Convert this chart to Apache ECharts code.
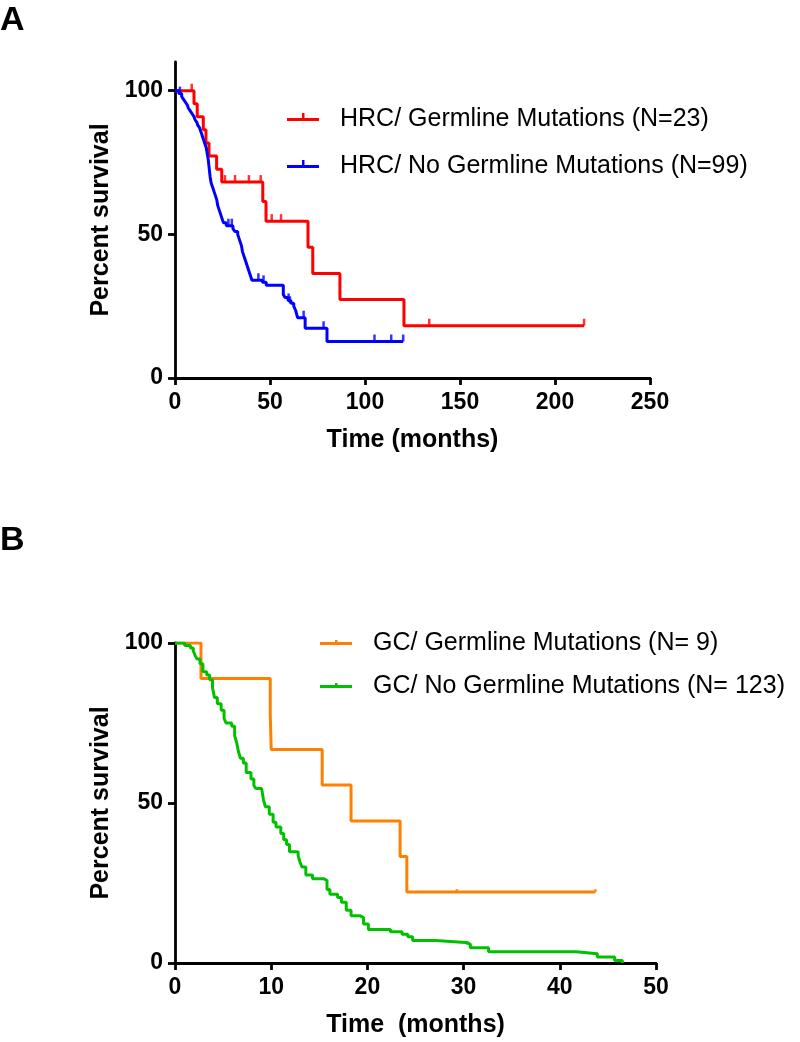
<!DOCTYPE html>
<html>
<head>
<meta charset="utf-8">
<script src="https://cdn.jsdelivr.net/npm/echarts@6/dist/echarts.min.js"></script>
<style>
html,body{margin:0;padding:0;background:#fff;}
#chart{width:800px;height:1042px;}
</style>
</head>
<body>
<div id="chart"></div>
<script>
// ---------- DATA ----------
// Panel A: HRC, time (months) vs percent survival (Kaplan-Meier steps: [time, survival after event])
const hrcGermline = [[0,100],[10.0,95.5],[11.7,90.9],[14.9,86.4],[16.3,81.8],[17.9,77.3],[21.9,72.7],[24.6,68.2],[46.2,61.4],[47.9,54.6],[70.0,45.5],[72.5,36.4],[86.8,27.3],[120.5,18.2],[215.3,18.2]];
const hrcGermlineCensor = [[8.8,100],[26.3,68.2],[31.6,68.2],[38.9,68.2],[45.1,68.2],[50.9,54.6],[55.8,54.6],[133.8,18.2],[215.3,18.2]];
const hrcNoGermline = [[0,100],[2,99],[3.5,98],[4.5,97],[5.5,96],[6.5,95],[7,94],[8,93],[9,92],[10,91],[10.5,90],[11.5,89],[12,88],[13,87],[13.5,86],[14,85],[14.5,84],[15,83],[15.5,82],[16,81],[16.5,80],[17,78],[17.5,76],[18,73],[18.5,70],[19,68],[20,66],[21,64],[22,62],[22.5,60],[23.5,58],[24.5,56],[25.5,54],[27,53],[30.5,52],[31.5,51],[33,50],[34,48],[35,46],[35.5,44],[36.5,42],[37.5,40],[38.5,38],[39.5,36],[40.5,34],[46,33.3],[48,32.3],[57,29],[58,28],[59.5,27],[61,26],[62.5,25],[63.5,23.5],[64.5,21],[68.5,17.3],[80,12.7],[120.1,12.7]];
const hrcNoGermlineCensor = [[2.6,99],[28.1,53],[29.9,53],[43.9,34],[46.6,33.3],[59.8,27],[60.5,26],[67.7,21],[78.2,17.3],[105,12.7],[113.8,12.7],[120.1,12.7]];

// Panel B: GC
const gcGermline = [[0,100],[2.7,88.9],[9.9,77.8],[10.0,66.7],[15.3,55.6],[18.3,44.4],[23.4,33.3],[24.1,22.2],[43.7,22.2]];
const gcGermlineCensor = [[29.3,22.2],[43.7,22.2]];
const gcNoGermline = [[0,100],[1.0,99.2],[1.6,98.4],[1.9,97.6],[2.1,96],[2.3,95],[2.6,93.5],[2.9,91],[3.3,90],[3.6,88.5],[3.9,86],[4.1,83],[4.4,81],[4.8,79],[5.1,76.5],[5.3,75],[5.9,74],[6.2,71],[6.4,69],[6.6,66],[6.8,64],[7.1,62.5],[7.4,59.5],[7.9,57.5],[8.2,55.5],[8.4,54.5],[9.0,54],[9.2,51],[9.4,48.8],[9.8,46.5],[10.2,44],[10.5,42.5],[11.0,40.5],[11.3,38.5],[11.6,37],[11.9,34.8],[12.8,33.5],[13.0,31.5],[13.2,30],[13.6,27.5],[14.3,26.3],[15.5,25.8],[15.8,23],[16.1,21.5],[16.9,20.5],[17.3,19],[17.8,16.5],[18.3,14.8],[19.2,14.2],[19.6,12.2],[20.1,10.5],[22.4,9.8],[23.6,9.0],[24.2,8.2],[24.7,7.0],[27.1,6.4],[30.2,5.9],[30.7,4.8],[32.6,3.5],[41.7,2.9],[43.9,1.9],[45.7,0.8],[46.5,0]];
const gcNoGermlineCensor = [[2.9,91],[30.4,5.9]];

const yTicksA = [0, 50, 100];
const yTicksB = [0, 50, 100];

const names = {
  hrcG: 'HRC/ Germline Mutations (N=23)',
  hrcN: 'HRC/ No Germline Mutations (N=99)',
  gcG: 'GC/ Germline Mutations (N= 9)',
  gcN: 'GC/ No Germline Mutations (N= 123)'
};

// ---------- STYLE ----------
const FONT = '"Liberation Sans", Arial, Helvetica, sans-serif';
const C = { red:'#ff0000', blue:'#0000ff', orange:'#ff8000', green:'#00c000' };
const iconBig = 'path://M0,7L32,7L32,10L0,10Z M15,2L17.5,2L17.5,7L15,7Z M48,15L48.01,15L48.01,15.01Z';
const iconSmall = 'path://M0,7L32,7L32,10L0,10Z M15,5L17.5,5L17.5,7L15,7Z M48,12L48.01,12L48.01,12.01Z';

const axisLineStyle = { color:'#000', width:2.8 };
function xAxisCfg(gridIndex, max, interval, name){
  return {
    type:'value', gridIndex, min:0, max, interval,
    name, nameLocation:'middle', nameGap:50,
    nameTextStyle:{ fontFamily:FONT, fontSize:25, fontWeight:'bold', color:'#000' },
    axisLine:{ show:true, onZero:false, lineStyle:axisLineStyle },
    axisTick:{ show:true, length:7, lineStyle:axisLineStyle },
    axisLabel:{ fontFamily:FONT, fontSize:23, fontWeight:'bold', color:'#000', margin:13 },
    splitLine:{ show:false }
  };
}
function yAxisCfg(gridIndex, max, ticks){
  return {
    type:'value', gridIndex, min:0, max, interval:50,
    name:'Percent survival', nameLocation:'middle', nameGap:60,
    nameTextStyle:{ fontFamily:FONT, fontSize:25, fontWeight:'bold', color:'#000' },
    axisLine:{ show:true, onZero:false, lineStyle:axisLineStyle },
    axisTick:{ show:true, length:7, lineStyle:axisLineStyle, customValues:ticks },
    axisLabel:{ fontFamily:FONT, fontSize:23, fontWeight:'bold', color:'#000', margin:12, customValues:ticks },
    splitLine:{ show:false }
  };
}
function kmLine(name, data, color, xi, yi){
  return { name, type:'line', step:'end', data, xAxisIndex:xi, yAxisIndex:yi,
    showSymbol:false, symbol:'none', lineStyle:{ color, width:3 }, itemStyle:{ color },
    silent:true, z:3 };
}
function censor(name, data, color, xi, yi, h){
  return { name, type:'scatter', data, xAxisIndex:xi, yAxisIndex:yi,
    symbol:'rect', symbolSize:[2.5, h], symbolOffset:[0, -h/2],
    itemStyle:{ color }, silent:true, z:4 };
}

const option = {
  animation:false,
  backgroundColor:'#fff',
  title:[
    { text:'A', left:0, top:4, padding:0, textStyle:{ fontFamily:FONT, fontSize:34, fontWeight:'bold', color:'#000' } },
    { text:'B', left:0, top:524, padding:0, textStyle:{ fontFamily:FONT, fontSize:34, fontWeight:'bold', color:'#000' } }
  ],
  grid:[
    { left:175, right:150, top:62, bottom:664, containLabel:false },
    { left:175, right:144, top:643, bottom:79, containLabel:false }
  ],
  xAxis:[ xAxisCfg(0, 250, 50, 'Time (months)'), xAxisCfg(1, 50, 10, 'Time  (months)') ],
  yAxis:[ yAxisCfg(0, 110, yTicksA), yAxisCfg(1, 100, yTicksB) ],
  legend:[
    { data:[ {name:names.hrcG, icon:iconBig}, {name:names.hrcN, icon:iconBig} ],
      orient:'vertical', left:287, top:107, padding:0, itemGap:22, itemWidth:48, itemHeight:13,
      selectedMode:false, textStyle:{ fontFamily:FONT, fontSize:25, color:'#000' } },
    { data:[ {name:names.gcG, icon:iconSmall}, {name:names.gcN, icon:iconSmall} ],
      orient:'vertical', left:320, top:631, padding:0, itemGap:18, itemWidth:48, itemHeight:12,
      selectedMode:false, textStyle:{ fontFamily:FONT, fontSize:25, color:'#000' } }
  ],
  series:[
    kmLine(names.hrcG, hrcGermline, C.red, 0, 0),
    kmLine(names.hrcN, hrcNoGermline, C.blue, 0, 0),
    censor('HRC germline censored', hrcGermlineCensor, C.red, 0, 0, 7),
    censor('HRC no germline censored', hrcNoGermlineCensor, C.blue, 0, 0, 7),
    kmLine(names.gcG, gcGermline, C.orange, 1, 1),
    kmLine(names.gcN, gcNoGermline, C.green, 1, 1),
    censor('GC germline censored', gcGermlineCensor, C.orange, 1, 1, 3),
    censor('GC no germline censored', gcNoGermlineCensor, C.green, 1, 1, 3)
  ]
};
const chart = echarts.init(document.getElementById('chart'), null, { renderer:'canvas' });
chart.setOption(option);
</script>
</body>
</html>
